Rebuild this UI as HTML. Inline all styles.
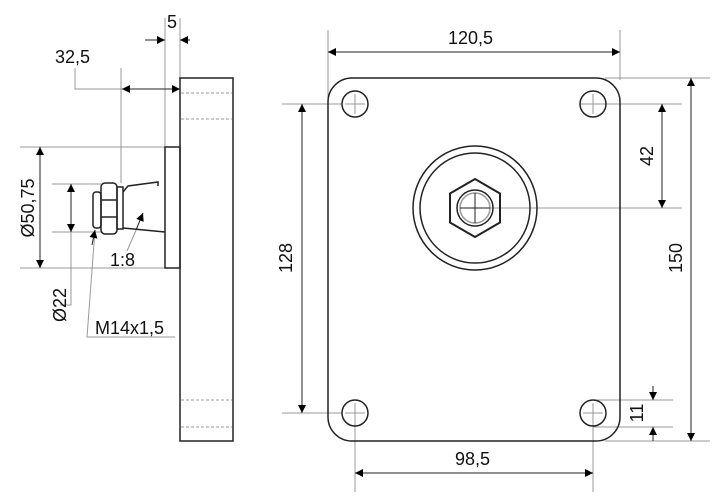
<!DOCTYPE html>
<html><head><meta charset="utf-8"><style>
html,body{margin:0;padding:0;background:#fff;}
svg{display:block;}
text{font-family:"Liberation Sans",sans-serif;font-size:18px;fill:#111;}
</style></head><body>
<svg width="720" height="502" viewBox="0 0 720 502" xmlns="http://www.w3.org/2000/svg">
<defs>
<marker id="a" viewBox="0 0 10 10" refX="10" refY="5" markerWidth="10" markerHeight="8" markerUnits="userSpaceOnUse" orient="auto-start-reverse"><path d="M0,0 L10,5 L0,10 z" fill="#000"/></marker>
</defs>
<g fill="none" stroke="#999" stroke-width="1">
<line x1="165" y1="18" x2="165" y2="147"/>
<line x1="180" y1="18" x2="180" y2="78"/>
<line x1="121" y1="68" x2="121" y2="183"/>
<polyline points="75,68 75,89 180,89"/>
<line x1="20" y1="147" x2="165" y2="147"/>
<line x1="20" y1="268" x2="165" y2="268"/>
<line x1="52" y1="184" x2="101" y2="184"/>
<line x1="52" y1="232" x2="101" y2="232"/>
<polyline points="71,232 71,305 60,305"/>
<polyline points="95,230 87,337 175,337"/>
<line x1="127" y1="251" x2="137" y2="228"/>
<line x1="328" y1="30" x2="328" y2="100"/>
<line x1="620" y1="30" x2="620" y2="80"/>
<line x1="282" y1="104" x2="342" y2="104"/>
<line x1="282" y1="413" x2="342" y2="413"/>
<line x1="355" y1="420" x2="355" y2="492"/>
<line x1="593" y1="420" x2="593" y2="492"/>
<line x1="605" y1="78" x2="710" y2="78"/>
<line x1="605" y1="441" x2="710" y2="441"/>
<line x1="580" y1="104" x2="682" y2="104"/>
<line x1="475" y1="208" x2="682" y2="208"/>
<line x1="593" y1="400" x2="673" y2="400"/>
<line x1="593" y1="427" x2="673" y2="427"/>
</g>
<g fill="none" stroke="#222" stroke-width="1">
<line x1="145" y1="40" x2="165" y2="40" marker-end="url(#a)"/>
<line x1="190" y1="40" x2="180" y2="40" marker-end="url(#a)"/>
<line x1="150" y1="89" x2="122" y2="89" marker-end="url(#a)"/>
<line x1="150" y1="89" x2="180" y2="89" marker-end="url(#a)"/>
<line x1="40" y1="147" x2="40" y2="268" marker-start="url(#a)" marker-end="url(#a)"/>
<line x1="71" y1="184" x2="71" y2="232" marker-start="url(#a)" marker-end="url(#a)"/>
<line x1="328" y1="52" x2="620" y2="52" marker-start="url(#a)" marker-end="url(#a)"/>
<line x1="355" y1="473" x2="593" y2="473" marker-start="url(#a)" marker-end="url(#a)"/>
<line x1="302" y1="104" x2="302" y2="413" marker-start="url(#a)" marker-end="url(#a)"/>
<line x1="691" y1="78" x2="691" y2="441" marker-start="url(#a)" marker-end="url(#a)"/>
<line x1="662" y1="104" x2="662" y2="208" marker-start="url(#a)" marker-end="url(#a)"/>
<line x1="653" y1="386" x2="653" y2="400" marker-end="url(#a)"/>
<line x1="653" y1="441" x2="653" y2="427" marker-end="url(#a)"/>
<line x1="136" y1="230" x2="143" y2="213" marker-end="url(#a)"/>
<line x1="92" y1="245" x2="95" y2="230" marker-end="url(#a)"/>
</g>
<g fill="none" stroke="#222" stroke-width="1.5">
<rect x="180" y="78" width="53" height="363"/>
<rect x="165" y="147" width="15" height="121"/>
<rect x="101" y="183" width="16" height="51" rx="4"/>
<line x1="101" y1="200" x2="117" y2="200"/><line x1="101" y1="217" x2="117" y2="217"/>
<rect x="93" y="192" width="8" height="36" rx="3"/>
<rect x="117" y="187" width="6" height="42"/>
<polyline points="123,192 128,186 158,182 158,186"/>
<line x1="123" y1="228" x2="165" y2="232"/>
<rect x="328" y="78" width="292" height="363" rx="24"/>
<circle cx="355" cy="104" r="13"/><circle cx="593" cy="104" r="13"/>
<circle cx="355" cy="413" r="13"/><circle cx="593" cy="413" r="13"/>
<circle cx="475" cy="208" r="62"/><circle cx="475" cy="208" r="55"/>
<polygon points="475,179 500,193.5 500,222.5 475,237 450,222.5 450,193.5" stroke-linejoin="round" stroke-width="2"/>
<circle cx="475" cy="208" r="18"/>
<circle cx="475" cy="208" r="15" stroke="#999"/>
</g>
<g stroke="#999" stroke-width="1" stroke-dasharray="3,2">
<line x1="181" y1="93" x2="232" y2="93"/><line x1="181" y1="119" x2="232" y2="119"/>
<line x1="181" y1="400" x2="232" y2="400"/><line x1="181" y1="427" x2="232" y2="427"/>
</g>
<g stroke="#999" stroke-width="1">
<line x1="345" y1="104" x2="365" y2="104"/><line x1="355" y1="94" x2="355" y2="114"/>
<line x1="583" y1="104" x2="603" y2="104"/><line x1="593" y1="94" x2="593" y2="114"/>
<line x1="345" y1="413" x2="365" y2="413"/><line x1="355" y1="403" x2="355" y2="423"/>
<line x1="583" y1="413" x2="603" y2="413"/><line x1="593" y1="403" x2="593" y2="423"/>
</g>
<g stroke="#222" stroke-width="1"><line x1="460" y1="208" x2="490" y2="208"/><line x1="475" y1="193" x2="475" y2="223"/></g>
<text x="167" y="28">5</text>
<text x="55" y="63">32,5</text>
<text x="110" y="266">1:8</text>
<text x="95" y="334">M14x1,5</text>
<text x="448" y="44">120,5</text>
<text x="455" y="465">98,5</text>
<text transform="translate(34,208) rotate(-90)" text-anchor="middle">Ø50,75</text>
<text transform="translate(66,305) rotate(-90)" text-anchor="middle">Ø22</text>
<text transform="translate(292,258) rotate(-90)" text-anchor="middle">128</text>
<text transform="translate(682,258) rotate(-90)" text-anchor="middle">150</text>
<text transform="translate(653,156) rotate(-90)" text-anchor="middle">42</text>
<text transform="translate(643,413) rotate(-90)" text-anchor="middle">11</text>
</svg>
</body></html>
